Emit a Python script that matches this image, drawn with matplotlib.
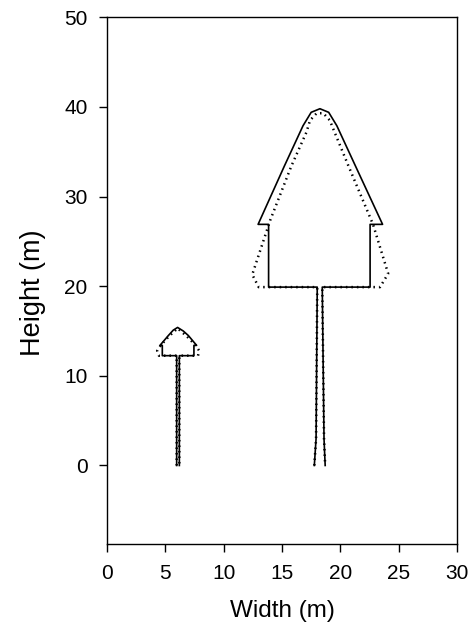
import matplotlib
matplotlib.use('Agg')
import matplotlib.pyplot as plt

plt.rcParams['font.family'] = ['Liberation Sans', 'DejaVu Sans']

# large tree, solid outline
big_solid_x = [17.77, 17.92, 18.02, 13.85, 13.85, 12.95, 15.2, 16.8, 17.5, 18.25,
               19.0, 19.7, 21.3, 23.62, 22.55, 22.55, 18.45, 18.6, 18.7]
big_solid_y = [0, 3, 19.9, 19.9, 26.9, 26.9, 33.4, 37.9, 39.4, 39.8,
               39.4, 37.9, 33.4, 26.9, 26.9, 19.9, 19.9, 3, 0]

# large tree, dotted outline
big_dot_x = [17.77, 17.92, 18.02, 13.0, 12.45, 14.0, 15.8, 17.1, 17.4, 17.97,
             18.54, 19.1, 19.5, 20.7, 22.8, 24.1, 23.4, 18.45, 18.6, 18.7]
big_dot_y = [0, 3, 19.9, 19.9, 21.3, 27.4, 33.4, 37.2, 38.5, 39.3,
             39.3, 38.5, 37.2, 33.4, 26.9, 21.4, 19.9, 19.9, 3, 0]

# small tree, solid outline
small_solid_x = [5.97, 5.97, 4.74, 4.74, 4.54, 5.26, 5.68, 6.05, 6.54, 6.97,
                 7.68, 7.45, 7.45, 6.2, 6.2]
small_solid_y = [0, 12.25, 12.25, 13.4, 13.4, 14.5, 15.1, 15.4, 15.0, 14.5,
                 13.4, 13.4, 12.25, 12.25, 0]

# small tree, dotted outline
small_dot_x = [5.97, 5.97, 4.45, 4.3, 4.6, 5.3, 6.05, 6.85, 7.6, 7.9, 7.8, 6.2, 6.2]
small_dot_y = [0, 12.25, 12.25, 12.8, 13.4, 14.4, 15.3, 14.4, 13.4, 12.8, 12.25, 12.25, 0]

fig = plt.figure(figsize=(4.71, 6.27), dpi=100)
ax = fig.add_axes([0.2272, 0.1318, 0.7431, 0.8406])

ax.plot(big_solid_x, big_solid_y, color='black', lw=1.2)
ax.plot(big_dot_x, big_dot_y, color='black', lw=1.8, ls=(0, (0.6, 1.6)))
ax.plot(small_solid_x, small_solid_y, color='black', lw=1.2)
ax.plot(small_dot_x, small_dot_y, color='black', lw=1.8, ls=(0, (0.6, 1.6)))

ax.set_xlim(0, 30)
ax.set_ylim(-8.8, 50)
ax.set_xticks([0, 5, 10, 15, 20, 25, 30])
ax.set_yticks([0, 10, 20, 30, 40, 50])
ax.tick_params(direction='out', length=6, width=1, labelsize=15, pad=8,
               top=False, right=False)
for s in ax.spines.values():
    s.set_linewidth(1)

ax.set_xlabel('Width (m)', fontsize=17.5)
ax.set_ylabel('Height (m)', fontsize=19.5)
ax.xaxis.set_label_coords(0.5, -0.105)
ax.yaxis.set_label_coords(-0.175, 0.478)

fig.savefig('out.png', dpi=100)
